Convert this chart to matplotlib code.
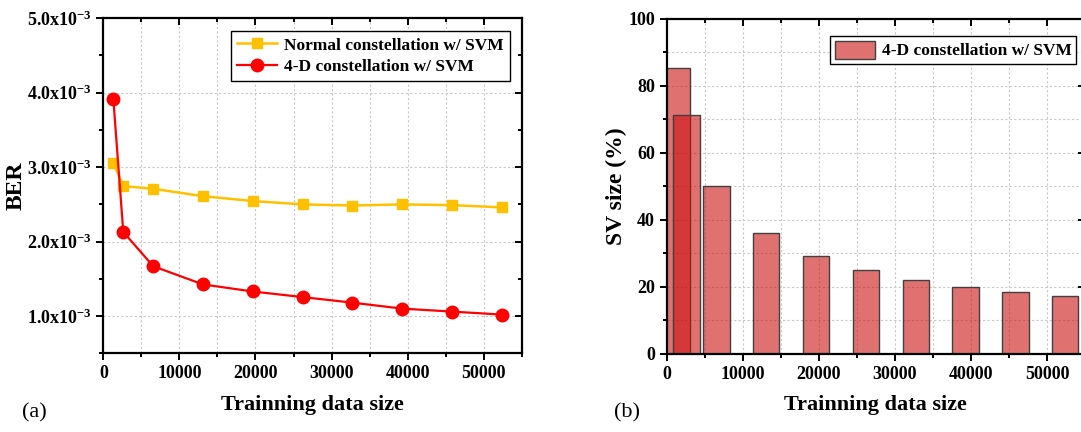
import matplotlib
matplotlib.use('Agg')
import matplotlib.pyplot as plt
from matplotlib.ticker import MultipleLocator, FixedLocator

plt.rcParams['font.family'] = ['Liberation Serif', 'DejaVu Serif']
plt.rcParams['font.weight'] = 'bold'
plt.rcParams['mathtext.fontset'] = 'custom'
plt.rcParams['mathtext.rm'] = 'Liberation Serif:bold'
plt.rcParams['mathtext.bf'] = 'Liberation Serif:bold'
plt.rcParams['mathtext.it'] = 'Liberation Serif:bold:italic'
plt.rcParams['mathtext.default'] = 'rm'

# training data sizes
train_size = [1310, 2620, 6550, 13100, 19650, 26200, 32750, 39300, 45850, 52400]
# BER (x1e-3)
ber_normal = [3.06, 2.745, 2.71, 2.61, 2.545, 2.50, 2.485, 2.50, 2.49, 2.46]
ber_4d = [3.92, 2.13, 1.67, 1.425, 1.33, 1.255, 1.18, 1.10, 1.06, 1.02]
# support vector size (%)
sv_size = [85.4, 71.4, 50.0, 36.0, 29.3, 25.0, 22.1, 20.0, 18.5, 17.2]

ber_ticks = [1.0, 2.0, 3.0, 4.0, 5.0]
ber_labels = ['%.1fx10$^{-3}$' % v for v in ber_ticks]

fig = plt.figure(figsize=(10.81, 4.32), dpi=100)
ax1 = fig.add_axes([0.0956, 0.1822, 0.3870, 0.7755])
ax2 = fig.add_axes([0.6167, 0.1806, 0.3870, 0.7755])

grid_kw = dict(color='#c8c8c8', linestyle=(0, (2, 2)), linewidth=0.8)


def style_axes(ax):
    for s in ax.spines.values():
        s.set_linewidth(1.6)
    ax.tick_params(which='both', direction='out', width=1.4, labelsize=13,
                   top=False, right=False)
    ax.tick_params(which='major', length=5)
    ax.tick_params(which='minor', length=3)
    ax.set_axisbelow(True)
    # inward ticks on top and right
    sec_x = ax.secondary_xaxis('top')
    sec_y = ax.secondary_yaxis('right')
    for sec in (sec_x, sec_y):
        sec.tick_params(which='both', direction='in', width=1.4, labelleft=False,
                        labelright=False, labeltop=False, labelbottom=False)
        sec.tick_params(which='major', length=5)
        sec.tick_params(which='minor', length=3)
        sec.spines[:].set_visible(False)
    return sec_x, sec_y


# (a) BER
ax1.plot(train_size, [v * 1e-3 for v in ber_normal], color='#FFC000', lw=1.8,
         marker='s', ms=7.5, label='Normal constellation w/ SVM', zorder=3)
ax1.plot(train_size, [v * 1e-3 for v in ber_4d], color='#FF0000', lw=1.6,
         marker='o', ms=9, label='4-D constellation w/ SVM', zorder=4)
ax1.set_xlim(0, 55000)
ax1.set_ylim(0.5e-3, 5.0e-3)
ax1.xaxis.set_major_locator(MultipleLocator(10000))
ax1.xaxis.set_minor_locator(MultipleLocator(5000))
ax1.yaxis.set_major_locator(FixedLocator([v * 1e-3 for v in ber_ticks]))
ax1.set_yticklabels(ber_labels)
ax1.yaxis.set_minor_locator(MultipleLocator(0.5e-3))
for x in range(5000, 55000, 5000):
    ax1.axvline(x, **grid_kw, zorder=0)
for v in ber_ticks[:-1]:
    ax1.axhline(v * 1e-3, **grid_kw, zorder=0)
sx, sy = style_axes(ax1)
sx.xaxis.set_major_locator(MultipleLocator(10000))
sx.xaxis.set_minor_locator(MultipleLocator(5000))
sy.yaxis.set_major_locator(FixedLocator([v * 1e-3 for v in ber_ticks]))
sy.yaxis.set_minor_locator(MultipleLocator(0.5e-3))
ax1.set_xlabel('Trainning data size', fontsize=16, fontweight='bold', labelpad=9)
ax1.set_ylabel('BER', fontsize=17, fontweight='bold')
ax1.yaxis.set_label_coords(-0.184, 0.5)
leg1 = ax1.legend(loc='upper right', bbox_to_anchor=(0.972, 0.961), fontsize=12.5,
                  fancybox=False, edgecolor='black', framealpha=1, handlelength=2.3,
                  borderpad=0.35, labelspacing=0.3, handletextpad=0.4, borderaxespad=0)
leg1.get_frame().set_linewidth(1.0)

# (b) SV size
ax2.bar(train_size, sv_size, width=3450, color=(0.80, 0.07, 0.07, 0.6),
        edgecolor='#404040', linewidth=1.0, label='4-D constellation w/ SVM', zorder=2)
ax2.set_xlim(0, 55000)
ax2.set_ylim(0, 100)
ax2.xaxis.set_major_locator(MultipleLocator(10000))
ax2.xaxis.set_minor_locator(MultipleLocator(5000))
ax2.yaxis.set_major_locator(MultipleLocator(20))
ax2.yaxis.set_minor_locator(MultipleLocator(10))
for x in range(5000, 55000, 5000):
    ax2.axvline(x, **grid_kw, zorder=0)
for y in range(10, 100, 10):
    ax2.axhline(y, **grid_kw, zorder=0)
sx, sy = style_axes(ax2)
sx.xaxis.set_major_locator(MultipleLocator(10000))
sx.xaxis.set_minor_locator(MultipleLocator(5000))
sy.yaxis.set_major_locator(MultipleLocator(20))
sy.yaxis.set_minor_locator(MultipleLocator(10))
ax2.set_xlabel('Trainning data size', fontsize=16, fontweight='bold', labelpad=9)
ax2.set_ylabel('SV size (%)', fontsize=17, fontweight='bold', labelpad=1)
leg2 = ax2.legend(loc='upper right', bbox_to_anchor=(0.978, 0.948), fontsize=12.5,
                  fancybox=False, edgecolor='black', framealpha=1, handlelength=2.3,
                  handleheight=1.2, borderpad=0.25, handletextpad=0.4, borderaxespad=0)
leg2.get_frame().set_linewidth(1.0)

fig.text(0.032, 0.045, '(a)', fontsize=16, fontweight='normal', ha='center', va='center')
fig.text(0.580, 0.045, '(b)', fontsize=16, fontweight='normal', ha='center', va='center')

fig.savefig('out.png', dpi=100)
